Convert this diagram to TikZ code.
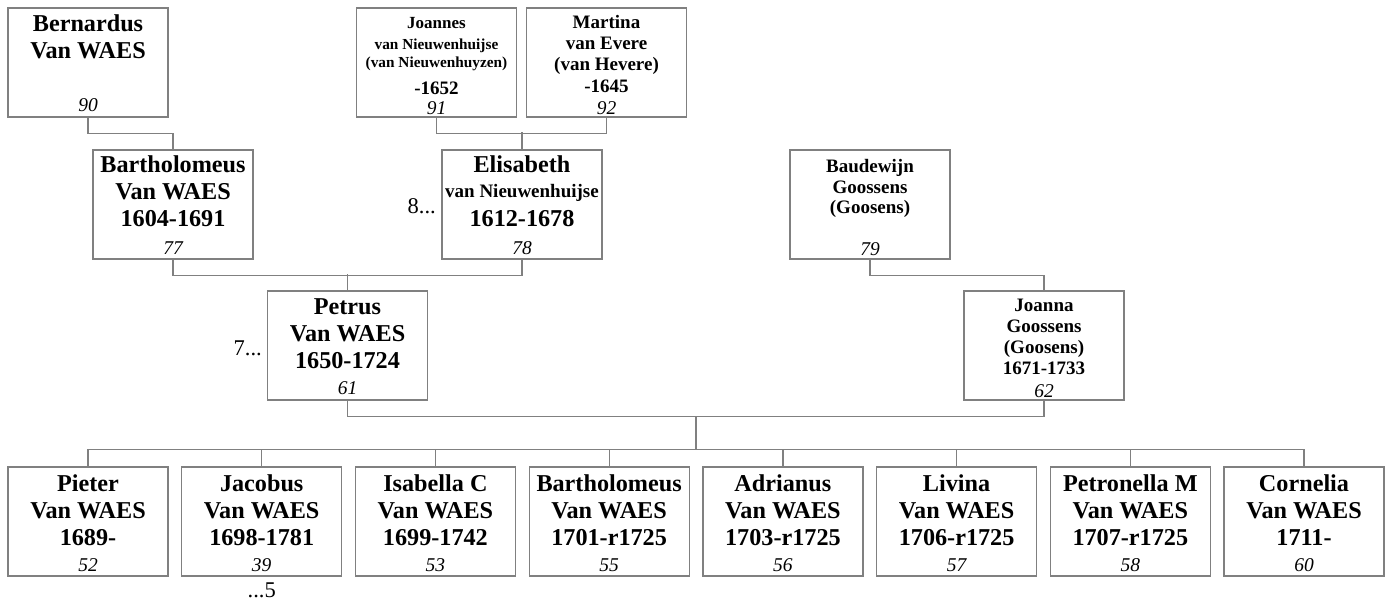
\documentclass[tikz,border=0pt]{standalone}
\usepackage{fontspec}
\setmainfont{Liberation Serif}
\definecolor{lg}{RGB}{128,128,128}
\newcommand\fb[1]{\rule{0pt}{#1pt}}
\newcommand\bigf{\bfseries\fontsize{24.2}{26.7}\selectfont}
\newcommand\medf{\bfseries\fontsize{19}{21}\selectfont}
\newcommand\smf{\bfseries\fontsize{15.3}{18}\selectfont}
\begin{document}
\begin{tikzpicture}[x=1pt,y=-1pt,
  pbox/.style={draw=lg, line width=1.2pt, minimum width=160pt, minimum height=109pt, inner sep=0pt},
  txt/.style={anchor=north, inner sep=0pt, align=center},
  idn/.style={anchor=base, inner sep=0pt, font=\itshape\fontsize{19.5}{21}\selectfont},
  conn/.style={draw=lg, line width=1.2pt},
  dots/.style={inner sep=0pt, font=\fontsize{22.5}{26}\selectfont}]
\useasboundingbox (0,0) rectangle (1389,600);

% generation 1
\node[pbox] (bern) at (88,62.5) {};
\node[txt, font=\bigf] (bern-t) at (bern.north) {\fb{24}Bernardus\\Van WAES};
\node[idn] (bern-id) at ([yshift=6pt]bern.south) {90};

\node[pbox] (joan) at (436.5,62.5) {};
\node[txt, font=\bfseries\fontsize{17}{18}\selectfont] (joan-t) at (joan.north)
  {\fb{21}Joannes\\[3pt]{\smf van Nieuwenhuijse}\\{\smf (van Nieuwenhuyzen)}\\[9pt]{\medf -1652}};
\node[idn] (joan-id) at ([yshift=3pt]joan.south) {91};

\node[pbox] (mart) at (606.5,62.5) {};
\node[txt, font=\medf] (mart-t) at (mart.north) {\fb{21}Martina\\van Evere\\(van Hevere)\\[1pt]-1645};
\node[idn] (mart-id) at ([yshift=3pt]mart.south) {92};

% generation 2
\node[pbox] (bart) at (173,204.5) {};
\node[txt, font=\bigf] (bart-t) at (bart.north) {\fb{23}Bartholomeus\\Van WAES\\1604-1691};
\node[idn] (bart-id) at ([yshift=5pt]bart.south) {77};

\node[pbox] (elis) at (522,204.5) {};
\node[txt, font=\bigf] (elis-t) at (elis.north) {\fb{23}Elisabeth\\[-2pt]{\medf van Nieuwenhuijse}\\[2pt]1612-1678};
\node[idn] (elis-id) at ([yshift=5pt]elis.south) {78};
\node[dots, anchor=base east] (elis-dots) at (436,213) {8...};

\node[pbox] (baud) at (870,204.5) {};
\node[txt, font=\bfseries\fontsize{19}{20.5}\selectfont] (baud-t) at (baud.north) {\fb{23}Baudewijn\\Goossens\\(Goosens)};
\node[idn] (baud-id) at ([yshift=4pt]baud.south) {79};

% generation 3
\node[pbox] (petr) at (347.5,345.5) {};
\node[txt, font=\bigf] (petr-t) at (petr.north) {\fb{24}Petrus\\Van WAES\\1650-1724};
\node[idn] (petr-id) at ([yshift=6pt]petr.south) {61};
\node[dots, anchor=base east] (petr-dots) at (262,355) {7...};

\node[pbox] (jona) at (1044,345.5) {};
\node[txt, font=\medf] (jona-t) at (jona.north) {\fb{21}Joanna\\Goossens\\(Goosens)\\1671-1733};
\node[idn] (jona-id) at ([yshift=3pt]jona.south) {62};

% children
\node[pbox] (c52) at (88,521.5) {};
\node[txt, font=\bigf] (c52-t) at (c52.north) {\fb{25}Pieter\\Van WAES\\1689-};
\node[idn] (c52-id) at ([yshift=5pt]c52.south) {52};

\node[pbox] (c39) at (261.7,521.5) {};
\node[txt, font=\bigf] (c39-t) at (c39.north) {\fb{25}Jacobus\\Van WAES\\1698-1781};
\node[idn] (c39-id) at ([yshift=5pt]c39.south) {39};
\node[dots, anchor=base] (c39-dots) at (261.7,597) {...5};

\node[pbox] (c53) at (435.4,521.5) {};
\node[txt, font=\bigf] (c53-t) at (c53.north) {\fb{25}Isabella C\\Van WAES\\1699-1742};
\node[idn] (c53-id) at ([yshift=5pt]c53.south) {53};

\node[pbox] (c55) at (609.1,521.5) {};
\node[txt, font=\bigf] (c55-t) at (c55.north) {\fb{25}Bartholomeus\\Van WAES\\1701-r1725};
\node[idn] (c55-id) at ([yshift=5pt]c55.south) {55};

\node[pbox] (c56) at (782.9,521.5) {};
\node[txt, font=\bigf] (c56-t) at (c56.north) {\fb{25}Adrianus\\Van WAES\\1703-r1725};
\node[idn] (c56-id) at ([yshift=5pt]c56.south) {56};

\node[pbox] (c57) at (956.6,521.5) {};
\node[txt, font=\bigf] (c57-t) at (c57.north) {\fb{25}Livina\\Van WAES\\1706-r1725};
\node[idn] (c57-id) at ([yshift=5pt]c57.south) {57};

\node[pbox] (c58) at (1130.3,521.5) {};
\node[txt, font=\bigf] (c58-t) at (c58.north) {\fb{25}Petronella M\\Van WAES\\1707-r1725};
\node[idn] (c58-id) at ([yshift=5pt]c58.south) {58};

\node[pbox] (c60) at (1304,521.5) {};
\node[txt, font=\bigf] (c60-t) at (c60.north) {\fb{25}Cornelia\\Van WAES\\1711-};
\node[idn] (c60-id) at ([yshift=5pt]c60.south) {60};

% connectors
\draw[conn] (bern.south) -- ++(0,16) -| (bart.north);
\draw[conn] (joan.south) -- ++(0,16) -| (mart.south);
\draw[conn] (elis.north) -- ++(0,-17);
\draw[conn] (bart.south) -- ++(0,16) -| (elis.south);
\draw[conn] (petr.north) -- ++(0,-16);
\draw[conn] (baud.south) -- ++(0,16) -| (jona.north);
\draw[conn] (petr.south) -- ++(0,16) -| (jona.south);
\coordinate (fam) at (696,416);
\draw[conn] (fam) -- (fam |- 0,450);
\draw[conn] (c52.north) -- ++(0,-17) -| (c60.north);
\foreach \c in {c39,c53,c55,c56,c57,c58}
  \draw[conn] (\c.north) -- ++(0,-17);
\end{tikzpicture}
\end{document}
